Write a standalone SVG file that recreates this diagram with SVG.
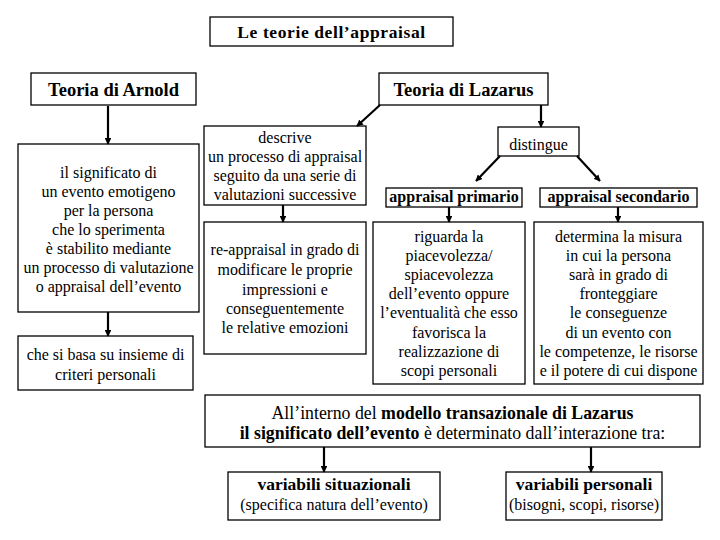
<svg xmlns="http://www.w3.org/2000/svg" width="720" height="540" viewBox="0 0 720 540">
<defs>
<marker id="ah" viewBox="0 0 10 10" refX="9" refY="5" markerWidth="3" markerHeight="3" orient="auto" markerUnits="strokeWidth">
<path d="M0,0 L10,5 L0,10 z" fill="#000"/>
</marker>
<style>
.b{fill:#fff;stroke:#000;stroke-width:1.3}
text{fill:#000;text-anchor:middle}
.t{font-size:16px}
.h{font-size:18.5px;font-weight:bold}
.s{font-size:17.8px}
.v{font-size:17.5px;font-weight:bold}
.c{stroke:#000;stroke-width:2.2;fill:none;marker-end:url(#ah)}
</style>
</defs>
<rect width="720" height="540" fill="#fff"/>
<g font-family="'Liberation Serif', 'DejaVu Serif', 'Noto Serif', 'Times New Roman', serif">
<g id="title"><rect class="b" x="210" y="17" width="243" height="29"/><text class="h" x="331.5" y="38" style="font-size:17.5px;letter-spacing:0.6px">Le teorie dell’appraisal</text></g>
<g id="arnold"><rect class="b" x="31" y="73" width="165" height="32"/><text class="h" x="113.5" y="96">Teoria di Arnold</text></g>
<g id="lazarus"><rect class="b" x="379" y="73" width="169" height="32"/><text class="h" x="463.5" y="96">Teoria di Lazarus</text></g>
<g id="significato"><rect class="b" x="18" y="144" width="181" height="168"/>
<text class="t"><tspan x="108.5" y="178">il significato di</tspan><tspan x="108.5" y="197">un evento emotigeno</tspan><tspan x="108.5" y="216">per la persona</tspan><tspan x="108.5" y="235">che lo sperimenta</tspan><tspan x="108.5" y="254">è stabilito mediante</tspan><tspan x="108.5" y="273">un processo di valutazione</tspan><tspan x="108.5" y="292">o appraisal dell’evento</tspan></text></g>
<g id="criteri"><rect class="b" x="18" y="336" width="175" height="54"/>
<text class="t"><tspan x="105.5" y="360">che si basa su insieme di</tspan><tspan x="105.5" y="380">criteri personali</tspan></text></g>
<g id="descrive"><rect class="b" x="204" y="126" width="162" height="79"/>
<text class="t"><tspan x="285" y="143">descrive</tspan><tspan x="285" y="162">un processo di appraisal</tspan><tspan x="285" y="181">seguito da una serie di</tspan><tspan x="285" y="200">valutazioni successive</tspan></text></g>
<g id="reappraisal"><rect class="b" x="204" y="222" width="162" height="132"/>
<text class="t"><tspan x="285" y="255">re-appraisal in grado di</tspan><tspan x="285" y="275">modificare le proprie</tspan><tspan x="285" y="295">impressioni e</tspan><tspan x="285" y="314">conseguentemente</tspan><tspan x="285" y="333">le relative emozioni</tspan></text></g>
<g id="distingue"><rect class="b" x="498" y="127" width="81" height="29"/><text class="t" x="538.5" y="150">distingue</text></g>
<g id="primario"><rect class="b" x="386" y="188" width="136" height="19"/><text class="t" x="454" y="202" style="font-weight:bold">appraisal primario</text></g>
<g id="secondario"><rect class="b" x="540" y="188" width="157" height="19"/><text class="t" x="618.5" y="202" style="font-weight:bold">appraisal secondario</text></g>
<g id="riguarda"><rect class="b" x="373" y="222" width="152" height="162"/>
<text class="t"><tspan x="449" y="242">riguarda la</tspan><tspan x="449" y="261">piacevolezza/</tspan><tspan x="449" y="280">spiacevolezza</tspan><tspan x="449" y="299">dell’evento oppure</tspan><tspan x="449" y="318">l’eventualità che esso</tspan><tspan x="449" y="338">favorisca la</tspan><tspan x="449" y="357">realizzazione di</tspan><tspan x="449" y="376">scopi personali</tspan></text></g>
<g id="determina"><rect class="b" x="534" y="222" width="169" height="162"/>
<text class="t"><tspan x="618.5" y="242">determina la misura</tspan><tspan x="618.5" y="261">in cui la persona</tspan><tspan x="618.5" y="280">sarà in grado di</tspan><tspan x="618.5" y="299">fronteggiare</tspan><tspan x="618.5" y="318">le conseguenze</tspan><tspan x="618.5" y="338">di un evento con</tspan><tspan x="618.5" y="357">le competenze, le risorse</tspan><tspan x="618.5" y="376">e il potere di cui dispone</tspan></text></g>
<g id="modello"><rect class="b" x="205" y="395" width="495" height="52"/>
<text class="s"><tspan x="452.5" y="419">All’interno del <tspan font-weight="bold">modello transazionale di Lazarus</tspan></tspan><tspan x="452.5" y="439"><tspan font-weight="bold">il significato dell’evento</tspan> è determinato dall’interazione tra:</tspan></text></g>
<g id="situazionali"><rect class="b" x="228" y="472" width="212" height="48"/>
<text><tspan class="v" x="334" y="490">variabili situazionali</tspan><tspan class="t" x="334" y="510">(specifica natura dell’evento)</tspan></text></g>
<g id="personali"><rect class="b" x="506" y="472" width="156" height="48"/>
<text><tspan class="v" x="584" y="490">variabili personali</tspan><tspan class="t" x="584" y="510">(bisogni, scopi, risorse)</tspan></text></g>
</g>
<g id="connectors">
<line class="c" x1="108" y1="106" x2="108" y2="144"/>
<line class="c" x1="108" y1="312" x2="108" y2="336"/>
<line class="c" x1="380" y1="105" x2="357" y2="126"/>
<line class="c" x1="283" y1="205" x2="283" y2="222"/>
<line class="c" x1="541" y1="105" x2="541" y2="127"/>
<line class="c" x1="500" y1="156" x2="476" y2="181"/>
<line class="c" x1="577" y1="156" x2="600" y2="181"/>
<line class="c" x1="449" y1="207" x2="449" y2="222"/>
<line class="c" x1="618" y1="207" x2="618" y2="222"/>
<line class="c" x1="324" y1="447" x2="324" y2="472"/>
<line class="c" x1="591" y1="447" x2="591" y2="472"/>
</g>
</svg>
